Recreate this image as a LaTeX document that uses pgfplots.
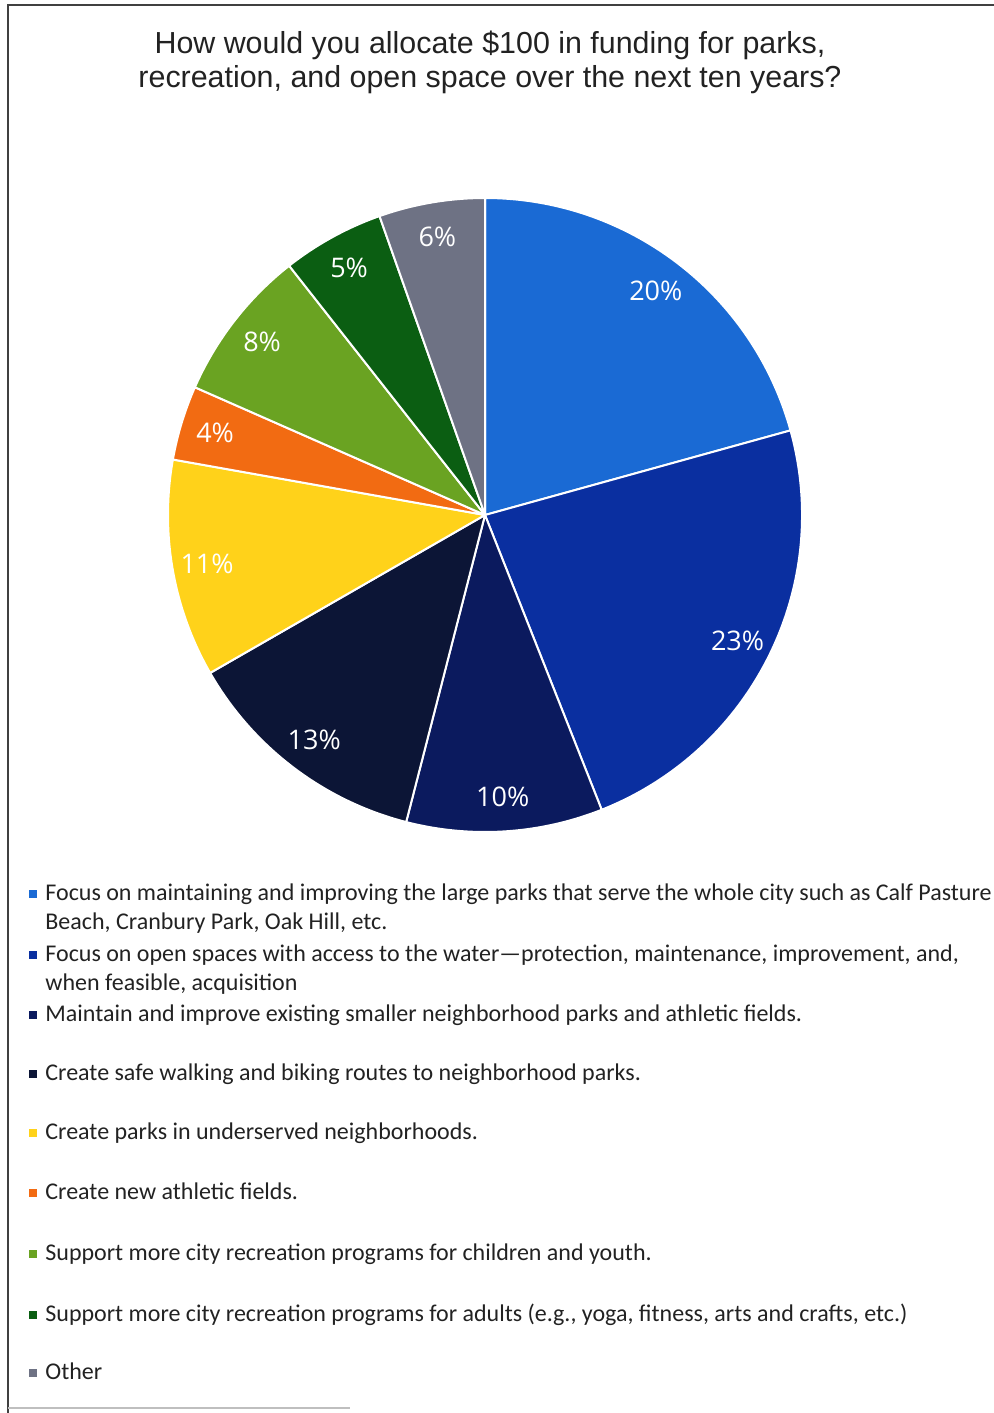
\documentclass[border=0pt]{standalone}
\usepackage{pgfplots}
\pgfplotsset{compat=1.18}
\usepackage{fontspec}
\setmainfont{Carlito}
\newfontfamily\titlefont{Liberation Sans}
\newfontfamily\labfont{Open Sans}
\definecolor{c1}{HTML}{1A6AD4}
\definecolor{c2}{HTML}{0A2FA0}
\definecolor{c3}{HTML}{0B1A5E}
\definecolor{c4}{HTML}{0C1536}
\definecolor{c5}{HTML}{FFD21A}
\definecolor{c6}{HTML}{F26B12}
\definecolor{c7}{HTML}{6AA322}
\definecolor{c8}{HTML}{0B5E12}
\definecolor{c9}{HTML}{6E7284}
\definecolor{txt}{HTML}{222222}
% slice shares (percent)
\pgfmathsetmacro\aA{90}
\pgfmathsetmacro\aB{\aA-3.6*20.7}
\pgfmathsetmacro\aC{\aB-3.6*23.3}
\pgfmathsetmacro\aD{\aC-3.6*10.0}
\pgfmathsetmacro\aE{\aD-3.6*12.7}
\pgfmathsetmacro\aF{\aE-3.6*11.1}
\pgfmathsetmacro\aG{\aF-3.6*3.8}
\pgfmathsetmacro\aH{\aG-3.6*7.8}
\pgfmathsetmacro\aI{\aH-3.6*5.2}
\pgfmathsetmacro\aJ{\aI-3.6*5.4}
\newcommand\slice[3]{%
  \fill[#3, draw=white, line width=1pt, line join=round] (axis cs:0,0) -- (axis cs:{cos(#1)},{sin(#1)}) arc[start angle=#1, end angle=#2, radius=158.5pt] -- cycle;
}
\newcommand\slicelabel[3]{%
  \node[white, font=\labfont\fontsize{13.5}{14}\selectfont] at (axis cs:{0.89*cos((#1+#2)/2)},{0.89*sin((#1+#2)/2)}) {#3};
}
% #1 baseline of first line (px), #2 colour, #3 text, #4 baseline of last line (px)
\newcommand\legitem[4]{%
  \fill[#2] (29,#1-10) rectangle (37,#1-2);
  \node[anchor=base west, inner sep=0pt, text=txt, font=\fontsize{12}{14.5}\selectfont, align=left] at (45,#4) {#3};
}
\begin{document}
\begin{tikzpicture}[x=0.5pt,y=-0.5pt]
\useasboundingbox (0,0) rectangle (993,1413);
\draw[black!75, line width=1.2pt] (8,1413) -- (8,5) -- (1000,5);
\draw[black!25, line width=0.6pt] (8,1408) -- (350,1408);
\node[text=txt, font=\titlefont\fontsize{15.2}{17}\selectfont, align=center] at (490,62) {How would you allocate \$100 in funding for parks,\\recreation, and open space over the next ten years?};
\begin{axis}[at={(242.5pt,-257.5pt)}, anchor=center, hide axis, scale only axis,
  width=317pt, height=317pt, xmin=-1, xmax=1, ymin=-1, ymax=1, clip=false]
\addplot[draw=none] coordinates {(-1,-1) (1,1)};
\slice{\aA}{\aB}{c1}
\slice{\aB}{\aC}{c2}
\slice{\aC}{\aD}{c3}
\slice{\aD}{\aE}{c4}
\slice{\aE}{\aF}{c5}
\slice{\aF}{\aG}{c6}
\slice{\aG}{\aH}{c7}
\slice{\aH}{\aI}{c8}
\slice{\aI}{\aJ}{c9}
\slicelabel{\aA}{\aB}{20\%}
\slicelabel{\aB}{\aC}{23\%}
\slicelabel{\aC}{\aD}{10\%}
\slicelabel{\aD}{\aE}{13\%}
\slicelabel{\aE}{\aF}{11\%}
\slicelabel{\aF}{\aG}{4\%}
\slicelabel{\aG}{\aH}{8\%}
\slicelabel{\aH}{\aI}{5\%}
\slicelabel{\aI}{\aJ}{6\%}
\end{axis}
\legitem{900}{c1}{Focus on maintaining and improving the large parks that serve the whole city such as Calf Pasture\\Beach, Cranbury Park, Oak Hill, etc.}{929}
\legitem{961}{c2}{Focus on open spaces with access to the water---protection, maintenance, improvement, and,\\when feasible, acquisition}{990}
\legitem{1021}{c3}{Maintain and improve existing smaller neighborhood parks and athletic fields.}{1021}
\legitem{1080}{c4}{Create safe walking and biking routes to neighborhood parks.}{1080}
\legitem{1139}{c5}{Create parks in underserved neighborhoods.}{1139}
\legitem{1199}{c6}{Create new athletic fields.}{1199}
\legitem{1260}{c7}{Support more city recreation programs for children and youth.}{1260}
\legitem{1321}{c8}{Support more city recreation programs for adults (e.g., yoga, fitness, arts and crafts, etc.)}{1321}
\legitem{1379}{c9}{Other}{1379}
\end{tikzpicture}
\end{document}
